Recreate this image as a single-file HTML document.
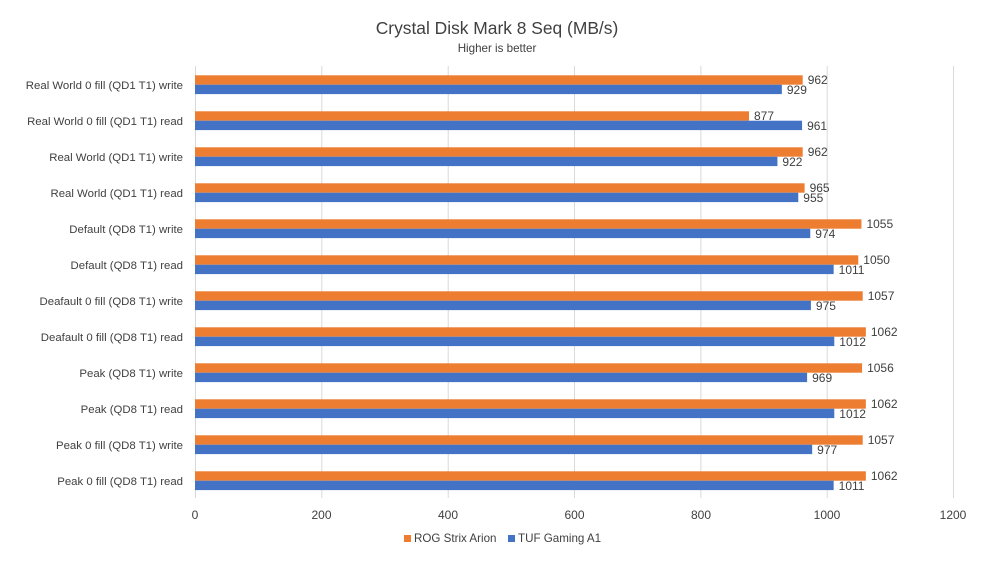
<!DOCTYPE html>
<html><head><meta charset="utf-8"><style>
body{margin:0;background:#fff}
svg{display:block;font-family:"Liberation Sans",sans-serif}
</style></head><body>
<svg width="1000" height="563" viewBox="0 0 1000 563">
<text x="497" y="34" text-anchor="middle" font-size="17.4" fill="#404040">Crystal Disk Mark 8 Seq (MB/s)</text>
<text x="497" y="52" text-anchor="middle" font-size="11.6" fill="#404040">Higher is better</text>
<g stroke="#d9d9d9" stroke-width="1">
<line x1="195.5" y1="66" x2="195.5" y2="498"/>
<line x1="321.8" y1="66" x2="321.8" y2="498"/>
<line x1="448.2" y1="66" x2="448.2" y2="498"/>
<line x1="574.5" y1="66" x2="574.5" y2="498"/>
<line x1="700.9" y1="66" x2="700.9" y2="498"/>
<line x1="827.2" y1="66" x2="827.2" y2="498"/>
<line x1="953.5" y1="66" x2="953.5" y2="498"/>
</g>
<g font-size="12" fill="#404040" text-anchor="middle">
<text x="195" y="519">0</text><text x="321.5" y="519">200</text><text x="448" y="519">400</text><text x="574.5" y="519">600</text><text x="701" y="519">800</text><text x="827" y="519">1000</text><text x="953" y="519">1200</text>
</g>
<g id="bars"></g>
<rect x="404" y="535" width="7" height="7" fill="#ed7d31"/>
<text x="414" y="542" font-size="11.6" fill="#404040">ROG Strix Arion</text>
<rect x="508" y="535" width="7" height="7" fill="#4472c4"/>
<text x="518" y="542" font-size="11.6" fill="#404040">TUF Gaming A1</text>
</svg>
<script>
var d=[["Real World 0 fill (QD1 T1) write",962,929],["Real World 0 fill (QD1 T1) read",877,961],["Real World (QD1 T1) write",962,922],["Real World (QD1 T1) read",965,955],["Default (QD8 T1) write",1055,974],["Default (QD8 T1) read",1050,1011],["Deafault 0 fill (QD8 T1) write",1057,975],["Deafault 0 fill (QD8 T1) read",1062,1012],["Peak (QD8 T1) write",1056,969],["Peak (QD8 T1) read",1062,1012],["Peak 0 fill (QD8 T1) write",1057,977],["Peak 0 fill (QD8 T1) read",1062,1011]];
var s="",k=0.6317;
d.forEach(function(r,i){var y=75.3+36*i;var wo=r[1]*k,wb=r[2]*k;
s+='<text x="183" y="'+(y+13.5)+'" font-size="11.4" fill="#404040" text-anchor="end">'+r[0]+'</text>';
s+='<rect x="195" y="'+y+'" width="'+wo+'" height="9.4" fill="#ed7d31"/>';
s+='<rect x="195" y="'+(y+9.4)+'" width="'+wb+'" height="9.4" fill="#4472c4"/>';
s+='<text x="'+(195+wo+5)+'" y="'+(y+8.5)+'" font-size="12" fill="#404040">'+r[1]+'</text>';
s+='<text x="'+(195+wb+5)+'" y="'+(y+18.5)+'" font-size="12" fill="#404040">'+r[2]+'</text>';});
document.getElementById("bars").innerHTML=s;
</script>
</body></html>
